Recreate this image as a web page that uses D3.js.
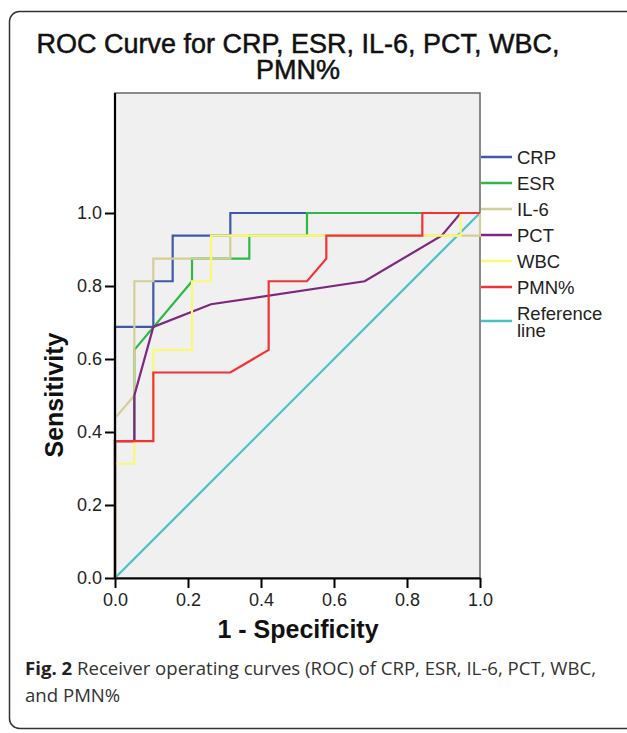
<!DOCTYPE html>
<html>
<head>
<meta charset="utf-8">
<script src="https://cdn.jsdelivr.net/npm/d3@7"></script>
<style>
  body { margin: 0; background: #fff; }
  svg { display: block; }
</style>
</head>
<body>
<svg id="chart" width="627" height="733"></svg>
<script>
// ROC curve data (x = 1 - specificity, y = sensitivity)
const seriesNames = ['CRP', 'ESR', 'IL-6', 'PCT', 'WBC', 'PMN%', 'Reference line'];
const seriesColors = ['#3e58ac', '#2eb848', '#d3ce97', '#7c287d', '#fbf873', '#ef3338', '#48c2c5'];

const crpPts = [[0,0],[0,0.688],[0.105,0.688],[0.105,0.813],[0.158,0.813],[0.158,0.938],[0.316,0.938],[0.316,1],[1,1]];
const esrPts = [[0,0],[0,0.375],[0.053,0.375],[0.053,0.625],[0.211,0.813],[0.211,0.875],[0.368,0.875],[0.368,0.938],[0.526,0.938],[0.526,1],[1,1]];
const il6Pts = [[0,0],[0,0.438],[0.053,0.5],[0.053,0.813],[0.105,0.813],[0.105,0.875],[0.316,0.875],[0.316,0.938],[1,0.938],[1,1]];
const pctPts = [[0,0],[0,0.375],[0.053,0.375],[0.053,0.5],[0.105,0.688],[0.263,0.75],[0.684,0.813],[0.895,0.938],[0.947,1],[1,1]];
const wbcPts = [[0,0],[0,0.313],[0.053,0.313],[0.053,0.375],[0.105,0.375],[0.105,0.625],[0.211,0.625],[0.211,0.813],[0.263,0.813],[0.263,0.938],[0.947,0.938],[0.947,1],[1,1]];
const pmnPts = [[0,0],[0,0.375],[0.105,0.375],[0.105,0.563],[0.316,0.563],[0.421,0.625],[0.421,0.813],[0.526,0.813],[0.579,0.875],[0.579,0.938],[0.842,0.938],[0.842,1],[1,1]];
const refPts = [[0,0],[1,1]];

const tickValues = [0, 0.2, 0.4, 0.6, 0.8, 1.0];

(function() {
  const svg = d3.select('#chart');
  const plot = {left: 115, right: 480, top: 93, bottom: 578};
  const x = d3.scaleLinear().domain([0, 1]).range([plot.left, plot.right]);
  const y = d3.scaleLinear().domain([0, 1]).range([plot.bottom, 213]);

  // outer figure frame (right side runs off the page)
  svg.append('rect')
    .attr('x', 9.5).attr('y', 11.5)
    .attr('width', 700).attr('height', 717)
    .attr('rx', 10)
    .attr('fill', 'none')
    .attr('stroke', '#333')
    .attr('stroke-width', 1.5);

  // title
  const title = svg.append('text')
    .attr('text-anchor', 'middle')
    .attr('font-family', 'Liberation Sans, Arial, sans-serif')
    .attr('font-size', 27)
    .attr('fill', '#111')
    .attr('stroke', '#111')
    .attr('stroke-width', 0.5);
  title.append('tspan').attr('x', 298).attr('y', 53).text('ROC Curve for CRP, ESR, IL-6, PCT, WBC,');
  title.append('tspan').attr('x', 298).attr('y', 79).text('PMN%');

  // plot background
  svg.append('rect')
    .attr('x', plot.left).attr('y', plot.top)
    .attr('width', plot.right - plot.left)
    .attr('height', plot.bottom - plot.top)
    .attr('fill', '#f0f0f0')
    .attr('stroke', '#666')
    .attr('stroke-width', 1.5);

  // curves
  const line = d3.line().x(d => x(d[0])).y(d => y(d[1]));
  const allPts = [crpPts, esrPts, il6Pts, pctPts, wbcPts, pmnPts, refPts];
  const curveOrder = [6, 0, 1, 2, 3, 4, 5];
  curveOrder.forEach(i => {
    svg.append('path')
      .datum(allPts[i])
      .attr('fill', 'none')
      .attr('stroke', seriesColors[i])
      .attr('stroke-width', 2.2)
      .attr('stroke-linejoin', 'miter')
      .attr('d', line);
  });

  // axes
  const fmt = d3.format('.1f');
  const yAxis = svg.append('g')
    .attr('transform', `translate(${plot.left},0)`)
    .call(d3.axisLeft(y).tickValues(tickValues).tickFormat(fmt).tickSize(10).tickPadding(3).tickSizeOuter(0));
  const xAxis = svg.append('g')
    .attr('transform', `translate(0,${plot.bottom})`)
    .call(d3.axisBottom(x).tickValues(tickValues).tickFormat(fmt).tickSize(10).tickPadding(5).tickSizeOuter(0));
  yAxis.select('.domain').attr('d', `M0,${plot.top}V${plot.bottom + 1}`);
  [xAxis, yAxis].forEach(a => {
    a.select('.domain').attr('stroke', '#000').attr('stroke-width', 2.2);
    a.selectAll('.tick line').attr('stroke', '#000').attr('stroke-width', 2);
    a.selectAll('.tick text')
      .attr('font-family', 'Liberation Sans, Arial, sans-serif')
      .attr('font-size', 18)
      .attr('fill', '#222');
  });

  // axis titles
  svg.append('text')
    .attr('transform', 'translate(63,395) rotate(-90)')
    .attr('text-anchor', 'middle')
    .attr('font-family', 'Liberation Sans, Arial, sans-serif')
    .attr('font-weight', 'bold')
    .attr('font-size', 25)
    .attr('fill', '#111')
    .text('Sensitivity');
  svg.append('text')
    .attr('x', 298).attr('y', 638)
    .attr('text-anchor', 'middle')
    .attr('font-family', 'Liberation Sans, Arial, sans-serif')
    .attr('font-weight', 'bold')
    .attr('font-size', 25)
    .attr('fill', '#111')
    .text('1 - Specificity');

  // legend
  const legend = svg.append('g');
  seriesNames.forEach((name, i) => {
    const ly = 157 + i * 26 + (i === 6 ? 8 : 0);
    legend.append('line')
      .attr('x1', plot.right + 1).attr('x2', 512)
      .attr('y1', ly).attr('y2', ly)
      .attr('stroke', seriesColors[i])
      .attr('stroke-width', 2.5);
    const lab = {family: 'Liberation Sans, Arial, sans-serif', size: 18.5};
    if (i === 6) {
      legend.append('text').attr('x', 517).attr('y', ly - 1)
        .attr('font-family', lab.family).attr('font-size', lab.size).attr('fill', '#222')
        .text('Reference');
      legend.append('text').attr('x', 517).attr('y', ly + 16)
        .attr('font-family', lab.family).attr('font-size', lab.size).attr('fill', '#222')
        .text('line');
    } else {
      legend.append('text').attr('x', 517).attr('y', ly + 7)
        .attr('font-family', lab.family).attr('font-size', lab.size).attr('fill', '#222')
        .text(name);
    }
  });

  // caption
  const cap = svg.append('g')
    .attr('font-family', 'Open Sans, sans-serif')
    .attr('font-size', 18.6)
    .attr('fill', '#333');
  const l1 = cap.append('text').attr('x', 25).attr('y', 675);
  l1.append('tspan').attr('font-weight', 'bold').attr('fill', '#222').text('Fig. 2');
  l1.append('tspan').text(' Receiver operating curves (ROC) of CRP, ESR, IL-6, PCT, WBC,');
  cap.append('text').attr('x', 25).attr('y', 702).text('and PMN%');
})();
</script>
</body>
</html>
